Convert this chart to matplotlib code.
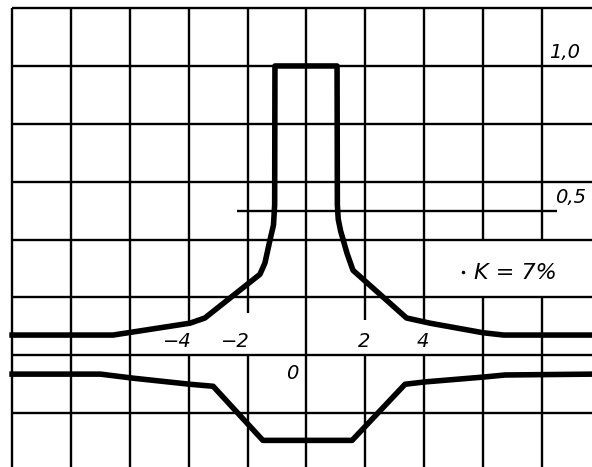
import matplotlib
matplotlib.use("Agg")
import matplotlib.pyplot as plt
import numpy as np

# upper curve (top hat with flared foot)
upper_x = [-10.0, -6.57, -3.96, -3.45, -1.58, -1.41, -1.24, -1.12, -1.08, -1.07,
           1.04, 1.05, 1.08, 1.16, 1.38, 1.58, 3.40, 4.20, 6.00, 6.70, 9.75]
upper_y = [0.070, 0.070, 0.111, 0.129, 0.280, 0.319, 0.398, 0.450, 0.520, 1.0,
           1.0, 0.520, 0.470, 0.430, 0.352, 0.294, 0.129, 0.111, 0.078, 0.070, 0.070]

# lower curve
lower_x = [-10.0, -7.00, -5.89, -3.96, -3.17, -1.48, 1.55, 3.35, 4.02, 6.03, 6.74, 9.75]
lower_y = [-0.065, -0.065, -0.079, -0.100, -0.107, -0.294, -0.294, -0.100,
           -0.092, -0.075, -0.068, -0.065]

x_ticks = [-4, -2, 2, 4]
x_tick_labels = ["\u22124", "\u22122", "2", "4"]
level_values = [1.0, 0.5]
level_labels = ["1,0", "0,5"]
note = "K = 7%"

fig = plt.figure(figsize=(5.92, 4.67), dpi=100)
ax = fig.add_axes([0, 0, 1, 1])
ax.set_xlim(-10.41, 9.70)
ax.set_ylim(-0.386, 1.228)
ax.axis("off")

# grid with breaks where labels sit
grid_x = np.arange(-10, 9, 2)
grid_y = np.round(np.arange(-0.2, 1.21, 0.2), 2)
gaps = {-4: (0.0, 0.104), -2: (0.0, 0.146), 2: (0.0, 0.122), 4: (0.0, 0.12),
        6: (0.2, 0.4), 8: (0.2, 0.4)}
glw = 1.7
for gx in grid_x:
    if gx in gaps:
        g0, g1 = gaps[gx]
        ax.vlines(gx, -0.4, g0, color="black", lw=glw)
        ax.vlines(gx, g1, 1.2, color="black", lw=glw)
    else:
        ax.vlines(gx, -0.4, 1.2, color="black", lw=glw)
for gy in grid_y:
    ax.hlines(gy, -10, 9.8, color="black", lw=glw)

# short reference line at 0.5
ax.hlines(0.5, -2.36, 8.51, color="black", lw=glw)

ax.plot(upper_x, upper_y, color="black", lw=4, solid_joinstyle="round")
ax.plot(lower_x, lower_y, color="black", lw=4, solid_joinstyle="round")

for v, lab in zip(x_ticks, x_tick_labels):
    off = -0.4 if v < 0 else -0.03
    ax.text(v + off, 0.047, lab, ha="center", va="center",
            fontsize=14, style="italic")
ax.text(-0.49, -0.062, "0", ha="center", va="center", fontsize=14, style="italic")

ax.text(8.78, level_values[0] + 0.048, level_labels[0], ha="center", va="center",
        fontsize=14, style="italic")
ax.text(8.98, level_values[1] + 0.044, level_labels[1], ha="center", va="center",
        fontsize=14, style="italic")

ax.plot([5.31], [0.287], marker="o", ms=1.5, color="black")
ax.text(5.69, 0.284, note, ha="left", va="center", fontsize=16, style="italic")

fig.savefig("out.png", dpi=100)
